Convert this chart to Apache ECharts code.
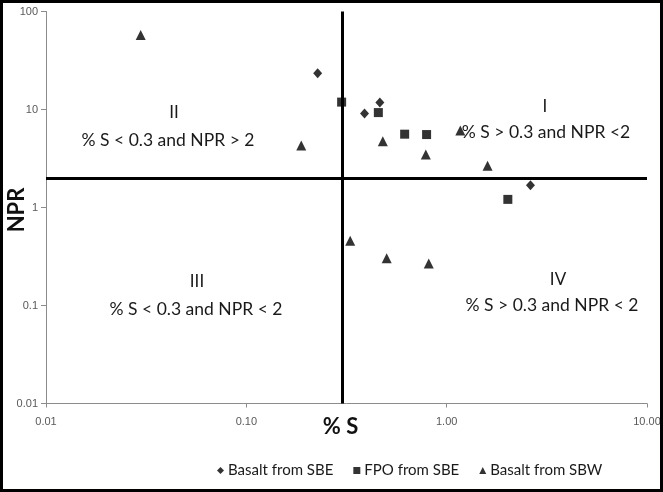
<!DOCTYPE html>
<html>
<head>
<meta charset="utf-8">
<script src="https://cdn.jsdelivr.net/npm/echarts@6/dist/echarts.min.js"></script>
<style>
	html, body { margin: 0; padding: 0; background: #fff; }
	#chart01 { width: 663px; height: 492px; box-sizing: border-box; border: 3px solid #000; }
</style>
</head>
<body>
<div id="chart01"></div>
<script>
// 시리즈 이름
const seriesNames = ['Basalt from SBE', 'FPO from SBE', 'Basalt from SBW'];

// Basalt from SBE [%S, NPR]
const basaltSbe = [[0.227, 23.5], [0.464, 11.8], [0.389, 9.1], [2.62, 1.69]];
// FPO from SBE
const fpoSbe = [[0.299, 11.9], [0.456, 9.3], [0.617, 5.6], [0.794, 5.55], [2.02, 1.21]];
// Basalt from SBW
const basaltSbw = [
	[0.0297, 57.7], [0.188, 4.3], [0.48, 4.75], [0.787, 3.47], [1.17, 6.1],
	[1.6, 2.67], [0.33, 0.458], [0.502, 0.304], [0.814, 0.268]
];

// 구분선
const sThreshold = 0.3;
const nprThreshold = 2;

// 사분면 텍스트
const quadrantNames = ['I', 'II', 'III', 'IV'];
const quadrantTexts = [
	'% S > 0.3 and NPR <2',
	'% S < 0.3 and NPR > 2',
	'% S < 0.3 and NPR < 2',
	'% S > 0.3 and NPR < 2'
];

const FONT = 'Lato, "Open Sans", sans-serif';

const fmtX = v => Number(v.toPrecision(3)).toFixed(2);
const fmtY = v => String(Number(v.toPrecision(3)));

// 사분면 텍스트 위치 (px, 테두리 3px 제외)
const quadPos = [
	{ x1: 542, y1: 104, x2: 543, y2: 129 },
	{ x1: 171, y1: 110, x2: 165, y2: 137 },
	{ x1: 194, y1: 279, x2: 193, y2: 306 },
	{ x1: 555, y1: 277, x2: 549, y2: 302 },
];
const graphic = [];
quadPos.forEach((p, i) => {
	graphic.push({
		type: 'text', x: p.x1, y: p.y1,
		style: { text: quadrantNames[i], font: '17px ' + FONT, fill: '#1a1a1a', align: 'center', verticalAlign: 'middle' }
	});
	graphic.push({
		type: 'text', x: p.x2, y: p.y2,
		style: { text: quadrantTexts[i], font: '17.5px ' + FONT, fill: '#1a1a1a', align: 'center', verticalAlign: 'middle' }
	});
});
// y축 제목
graphic.push({
	type: 'text', x: 14, y: 207, rotation: Math.PI / 2,
	style: { text: 'NPR', font: 'bold 22px ' + FONT, fill: '#111', align: 'center', verticalAlign: 'middle' }
});

const markerStyle = { color: '#000' };

const option = {
	animation: false,
	textStyle: { fontFamily: FONT },
	grid: { left: 43, right: 13, top: 8.5, bottom: 85.5, outerBoundsMode: 'none', containLabel: false },
	xAxis: {
		type: 'log', logBase: 10, min: 0.01, max: 10,
		name: '% S', nameLocation: 'middle', nameGap: 12, nameMoveOverlap: false,
		nameTextStyle: { fontSize: 22, fontWeight: 'bold', color: '#111', fontFamily: FONT, verticalAlign: 'top', padding: [0, 12, 0, 0] },
		axisLine: { lineStyle: { color: '#8c8c8c', width: 1 } },
		axisTick: { length: 4, lineStyle: { color: '#8c8c8c' } },
		axisLabel: { formatter: fmtX, fontSize: 11, color: '#595959', margin: 13, fontFamily: '"Liberation Sans", sans-serif' },
		splitLine: { show: false }
	},
	yAxis: {
		type: 'log', logBase: 10, min: 0.01, max: 100,
		axisLine: { lineStyle: { color: '#8c8c8c', width: 1 } },
		axisTick: { length: 5, lineStyle: { color: '#8c8c8c' } },
		axisLabel: { formatter: fmtY, fontSize: 11, color: '#595959', margin: 8, fontFamily: '"Liberation Sans", sans-serif' },
		splitLine: { show: false }
	},
	legend: {
		bottom: 6, left: 209,
		itemWidth: 7, itemHeight: 7, itemGap: 20,
		textStyle: { fontSize: 15, color: '#1a1a1a', fontFamily: FONT, padding: [0, 0, 0, -1] },
		data: [
			{ name: seriesNames[0], icon: 'diamond' },
			{ name: seriesNames[1], icon: 'rect' },
			{ name: seriesNames[2], icon: 'triangle' }
		]
	},
	graphic: graphic,
	series: [
		{
			name: seriesNames[0], type: 'scatter', symbol: 'diamond', symbolSize: [9, 10],
			itemStyle: markerStyle, data: basaltSbe, z: 5,
			markLine: {
				silent: true, symbol: 'none', label: { show: false },
				lineStyle: { color: '#000', width: 3, type: 'solid' },
				data: [{ xAxis: sThreshold }, { yAxis: nprThreshold }]
			}
		},
		{
			name: seriesNames[1], type: 'scatter', symbol: 'rect', symbolSize: 9,
			itemStyle: markerStyle, data: fpoSbe, z: 5
		},
		{
			name: seriesNames[2], type: 'scatter', symbol: 'triangle', symbolSize: [10, 10],
			itemStyle: markerStyle, data: basaltSbw, z: 5
		}
	]
};

const myChart = echarts.init(document.getElementById('chart01'), null, { renderer: 'canvas' });
myChart.setOption(option);
</script>
</body>
</html>
